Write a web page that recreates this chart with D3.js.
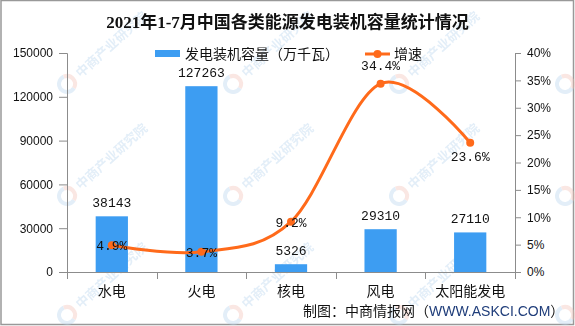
<!DOCTYPE html>
<html>
<head>
<meta charset="utf-8">
<script src="https://cdn.jsdelivr.net/npm/d3@7"></script>
<style>
  body { margin: 0; background: #fff; }
  svg { display: block; }
</style>
</head>
<body>
<div id="chart"></div>
<script>
'use strict';

// data
var categories = ["水电", "火电", "核电", "风电", "太阳能发电"];
var capacity = [38143, 127263, 5326, 29310, 27110];   // 万千瓦
var growth = [0.049, 0.037, 0.092, 0.344, 0.236];
var growthLabels = ["4.9%", "3.7%", "9.2%", "34.4%", "23.6%"];
var leftTicks = [0, 30000, 60000, 90000, 120000, 150000];
var rightTicks = [0, 0.05, 0.10, 0.15, 0.20, 0.25, 0.30, 0.35, 0.40];

var WIDTH = 575, HEIGHT = 326;
var margin = { top: 53, right: 60, bottom: 54, left: 67 };

var barColor = "#3d9df2";
var lineColor = "#ff6a1a";
var axisColor = "#8c8c8c";
var cjk = "'Noto Sans CJK SC', 'Noto Sans', sans-serif";
var mono = "'Liberation Mono', 'DejaVu Sans Mono', monospace";

var svg = d3.select("#chart").append("svg")
    .attr("width", WIDTH)
    .attr("height", HEIGHT);

// outer frame
svg.append("rect")
    .attr("x", 1).attr("y", 0.5)
    .attr("width", WIDTH - 2.5).attr("height", HEIGHT - 2)
    .style("fill", "#fff")
    .style("stroke", "#999")
    .style("stroke-width", 1.5);

// watermarks (decorative) - logo + text, text only where it fits
var wm = svg.append("g").style("opacity", 0.4);
[67, 233, 399, 565].forEach(function (cx, ci) {
    [84, 196, 315].forEach(function (cy) {
        var g = wm.append("g").attr("transform", "translate(" + cx + "," + cy + ") rotate(-42)");
        g.append("path")
            .attr("d", d3.arc()({ innerRadius: 6, outerRadius: 10, startAngle: Math.PI * 0.9, endAngle: Math.PI * 2.1 }))
            .style("fill", "#b9d5ee");
        g.append("path")
            .attr("d", d3.arc()({ innerRadius: 6, outerRadius: 10, startAngle: Math.PI * 0.1, endAngle: Math.PI * 0.9 }))
            .style("fill", "#f3c2b8");
        if (ci < 3) {
            g.append("text")
                .attr("x", 14).attr("y", 5)
                .style("font-family", cjk)
                .style("font-size", "13px")
                .style("font-weight", "bold")
                .style("fill", "#b9d5ee")
                .text("中商产业研究院");
        }
    });
});

// title
svg.append("text")
    .attr("x", WIDTH / 2).attr("y", 28)
    .attr("text-anchor", "middle")
    .style("font-family", "'Liberation Serif', 'Noto Sans CJK SC', serif")
    .style("font-size", "17px")
    .style("font-weight", "bold")
    .style("fill", "#111")
    .text("2021年1-7月中国各类能源发电装机容量统计情况");

// scales
var x = d3.scaleBand()
    .domain(categories)
    .range([margin.left, WIDTH - margin.right])
    .paddingInner(0.64)
    .paddingOuter(0.32);

var yL = d3.scaleLinear().domain([0, 150000]).range([HEIGHT - margin.bottom, margin.top]);
var yR = d3.scaleLinear().domain([0, 0.4]).range([HEIGHT - margin.bottom, margin.top]);

function styleAxis(g) {
    g.select(".domain").style("stroke", axisColor);
    g.selectAll(".tick line").style("stroke", axisColor);
    g.selectAll(".tick text")
        .style("font-family", "'Liberation Sans', Arial, sans-serif")
        .style("font-size", "12px")
        .style("fill", "#111");
}

// left axis
svg.append("g")
    .attr("transform", "translate(" + margin.left + ",0)")
    .call(d3.axisLeft(yL).tickValues(leftTicks).tickSize(8).tickSizeOuter(8).tickPadding(6).tickFormat(d3.format("d")))
    .call(styleAxis);

// right axis
svg.append("g")
    .attr("transform", "translate(" + (WIDTH - margin.right) + ",0)")
    .call(d3.axisRight(yR).tickValues(rightTicks).tickSize(6).tickSizeOuter(6).tickPadding(6).tickFormat(d3.format(".0%")))
    .call(styleAxis);

// bottom axis (ticks between categories)
var xAxis = svg.append("g");
xAxis.append("line")
    .attr("x1", margin.left).attr("x2", WIDTH - margin.right)
    .attr("y1", yL(0) + 0.5).attr("y2", yL(0) + 0.5)
    .style("stroke", axisColor);
d3.range(categories.length + 1).forEach(function (i) {
    var tx = Math.round(margin.left + i * x.step()) + 0.5;
    xAxis.append("line")
        .attr("x1", tx).attr("x2", tx)
        .attr("y1", yL(0)).attr("y2", yL(0) + 7)
        .style("stroke", axisColor);
});
xAxis.selectAll("text.cat")
    .data(categories)
    .enter().append("text")
    .attr("class", "cat")
    .attr("x", function (d) { return x(d) + x.bandwidth() / 2; })
    .attr("y", yL(0) + 24)
    .attr("text-anchor", "middle")
    .style("font-family", cjk)
    .style("font-size", "14px")
    .style("fill", "#111")
    .text(function (d) { return d; });

// bars
svg.selectAll("rect.bar")
    .data(capacity)
    .enter().append("rect")
    .attr("class", "bar")
    .attr("x", function (d, i) { return x(categories[i]); })
    .attr("y", function (d) { return yL(d); })
    .attr("width", x.bandwidth())
    .attr("height", function (d) { return yL(0) - yL(d); })
    .style("fill", barColor);

svg.selectAll("text.barlabel")
    .data(capacity)
    .enter().append("text")
    .attr("class", "barlabel")
    .attr("x", function (d, i) { return x(categories[i]) + x.bandwidth() / 2; })
    .attr("y", function (d) { return yL(d) - 9; })
    .attr("text-anchor", "middle")
    .style("font-family", mono)
    .style("font-size", "13px")
    .style("fill", "#111")
    .text(function (d) { return d; });

// growth line
var cx = function (i) { return x(categories[i]) + x.bandwidth() / 2; };
var line = d3.line()
    .x(function (d, i) { return cx(i); })
    .y(function (d) { return yR(d); })
    .curve(d3.curveCardinal.tension(0));

svg.append("path")
    .datum(growth)
    .attr("d", line)
    .style("fill", "none")
    .style("stroke", lineColor)
    .style("stroke-width", 3);

svg.selectAll("circle.pt")
    .data(growth)
    .enter().append("circle")
    .attr("class", "pt")
    .attr("cx", function (d, i) { return cx(i); })
    .attr("cy", function (d) { return yR(d); })
    .attr("r", 4)
    .style("fill", lineColor);

// growth labels: first three centered on point, peak above, last below
var labelDy = [5, 5, 5, -14, 18];
svg.selectAll("text.pctlabel")
    .data(growth)
    .enter().append("text")
    .attr("class", "pctlabel")
    .attr("x", function (d, i) { return cx(i); })
    .attr("y", function (d, i) { return yR(d) + labelDy[i]; })
    .attr("text-anchor", "middle")
    .style("font-family", mono)
    .style("font-size", "13px")
    .style("fill", "#111")
    .text(function (d, i) { return growthLabels[i]; });

// legend
var legend = svg.append("g");
legend.append("rect")
    .attr("x", 155).attr("y", 50)
    .attr("width", 25).attr("height", 7)
    .style("fill", barColor);
legend.append("text")
    .attr("x", 185).attr("y", 59)
    .style("font-family", cjk)
    .style("font-size", "14px")
    .style("fill", "#111")
    .text("发电装机容量（万千瓦）");
legend.append("line")
    .attr("x1", 365).attr("x2", 390)
    .attr("y1", 54).attr("y2", 54)
    .style("stroke", lineColor)
    .style("stroke-width", 3);
legend.append("circle")
    .attr("cx", 377.5).attr("cy", 54).attr("r", 4)
    .style("fill", lineColor);
legend.append("text")
    .attr("x", 394).attr("y", 59)
    .style("font-family", cjk)
    .style("font-size", "14px")
    .style("fill", "#111")
    .text("增速");

// source
var src = svg.append("text")
    .attr("x", 303).attr("y", 316)
    .style("font-family", cjk)
    .style("font-size", "14px")
    .style("fill", "#111");
src.append("tspan").text("制图：中商情报网（");
src.append("tspan").style("fill", "#1f3d7a").style("font-family", "'Liberation Sans', Arial, sans-serif").text("WWW.ASKCI.COM");
src.append("tspan").text("）");
</script>
</body>
</html>
